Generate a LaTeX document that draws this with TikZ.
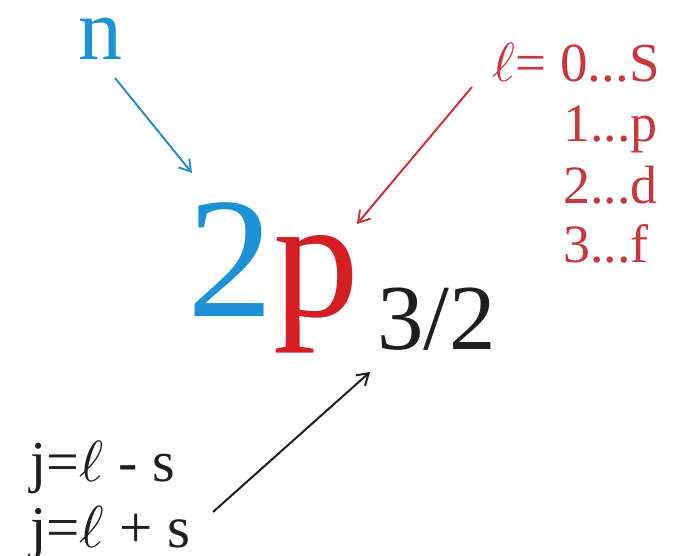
\documentclass[tikz,border=0pt]{standalone}
\usepackage{fontspec}
\usepackage{unicode-math}
\setmainfont{Liberation Serif}
\setmathfont{Latin Modern Math}
\usetikzlibrary{arrows.meta}
\definecolor{nblue}{RGB}{28,145,212}
\definecolor{lred}{RGB}{212,30,36}
\definecolor{tred}{RGB}{200,55,60}
\definecolor{ablue}{RGB}{45,140,200}
\definecolor{ared}{RGB}{205,50,60}
\definecolor{ablack}{RGB}{30,30,30}
\begin{document}
\begin{tikzpicture}[x=1pt,y=-1pt,
  lbl/.style={inner sep=0pt, anchor=base west},
  arr/.style={line width=2pt, -{Straight Barb[length=11pt,width=14pt]}}]
\useasboundingbox (0,0) rectangle (681,556);
% n
\node[lbl, text=nblue, font=\fontsize{88}{88}\selectfont] (n) at (78,60) {n};
% 2p
\node[lbl, font=\fontsize{172}{172}\selectfont] (tp) at (187,317) {\textcolor{nblue}{2}\textcolor{lred}{p}};
% 3/2
\node[lbl, text=ablack, font=\fontsize{93}{93}\selectfont] (j32) at (377,350) {3/2};
% l labels
\node[lbl, text=tred, font=\fontsize{55}{55}\selectfont] (l0) at (492,82) {$\ell$= 0...S};
\node[lbl, text=tred, font=\fontsize{54}{54}\selectfont] (l1) at (563,142) {1...p};
\node[lbl, text=tred, font=\fontsize{54}{54}\selectfont] (l2) at (563,204) {2...d};
\node[lbl, text=tred, font=\fontsize{54}{54}\selectfont] (l3) at (563,263) {3...f};
% j labels
\node[lbl, text=ablack, font=\fontsize{58}{58}\selectfont] (ja) at (30,482) {j=$\ell$ - s};
\node[lbl, text=ablack, font=\fontsize{59}{59}\selectfont] (jb) at (30,547) {j=$\ell$ + s};
% arrow ends
\coordinate (nS) at (115,78);
\coordinate (nE) at (192,173);
\coordinate (lS) at (472,87);
\coordinate (lE) at (357,224);
\coordinate (jS) at (213,512);
\coordinate (jE) at (370,372);
\draw[arr, ablue] (nS) -- (nE);
\draw[arr, ared] (lS) -- (lE);
\draw[arr, ablack] (jS) -- (jE);
\end{tikzpicture}
\end{document}
